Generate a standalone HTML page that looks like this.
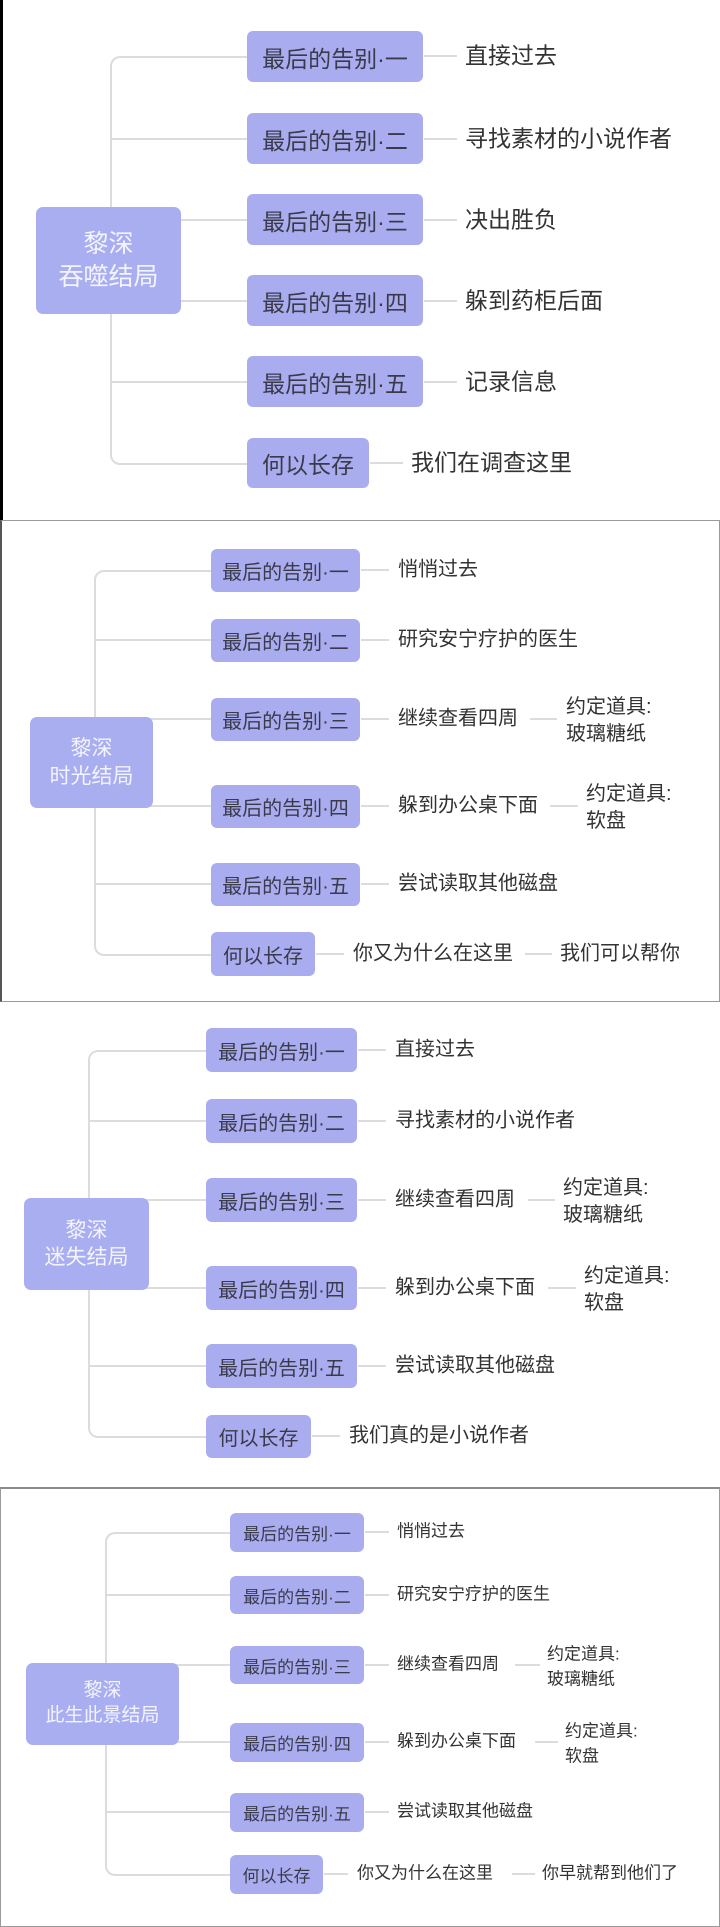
<!DOCTYPE html>
<html><head><meta charset="utf-8"><style>
html,body{margin:0;padding:0;background:#fff}
body{width:720px;height:1918px;position:relative;overflow:hidden;font-family:"Liberation Sans","Noto Sans CJK SC",sans-serif}
div{position:absolute;box-sizing:border-box}
.b{background:#a9adf0;border-radius:6px;display:flex;align-items:center;justify-content:center;color:#3a3a4a;white-space:nowrap}
.r{background:#a9aef0;border-radius:7px;display:flex;align-items:center;justify-content:center;text-align:center;color:#f4f4ff;line-height:1.3}
.t{color:#333;white-space:nowrap;transform:translateY(-50%);line-height:1.35}
.h{height:2px;background:#dcdcdc;margin-top:-1px}
.k{border:2px solid #dcdcdc;border-right:none;border-radius:10px 0 0 10px}
</style></head><body>

<!-- Section 1 -->
<div style="left:0;top:0;width:3px;height:520px;background:#000"></div>
<div class="k" style="left:110px;top:56px;width:137px;height:409px"></div>
<div class="h" style="left:110px;top:139px;width:137px"></div>
<div class="h" style="left:110px;top:220px;width:137px"></div>
<div class="h" style="left:110px;top:301px;width:137px"></div>
<div class="h" style="left:110px;top:382px;width:137px"></div>
<div class="r" style="left:36px;top:207px;width:145px;height:107px;font-size:25px">黎深<br>吞噬结局</div>
<div class="b" style="left:247px;top:31px;width:176px;height:51px;font-size:23px">最后的告别·一</div>
<div class="b" style="left:247px;top:113px;width:176px;height:51px;font-size:23px">最后的告别·二</div>
<div class="b" style="left:247px;top:194px;width:176px;height:51px;font-size:23px">最后的告别·三</div>
<div class="b" style="left:247px;top:275px;width:176px;height:51px;font-size:23px">最后的告别·四</div>
<div class="b" style="left:247px;top:356px;width:176px;height:51px;font-size:23px">最后的告别·五</div>
<div class="b" style="left:247px;top:438px;width:122px;height:50px;font-size:23px">何以长存</div>
<div class="h" style="left:424px;top:56px;width:33px"></div>
<div class="h" style="left:424px;top:139px;width:33px"></div>
<div class="h" style="left:424px;top:220px;width:33px"></div>
<div class="h" style="left:424px;top:301px;width:33px"></div>
<div class="h" style="left:424px;top:382px;width:33px"></div>
<div class="h" style="left:370px;top:463px;width:33px"></div>
<div class="t" style="left:465px;top:56px;font-size:23px">直接过去</div>
<div class="t" style="left:465px;top:139px;font-size:23px">寻找素材的小说作者</div>
<div class="t" style="left:465px;top:220px;font-size:23px">决出胜负</div>
<div class="t" style="left:465px;top:301px;font-size:23px">躲到药柜后面</div>
<div class="t" style="left:465px;top:382px;font-size:23px">记录信息</div>
<div class="t" style="left:411px;top:463px;font-size:23px">我们在调查这里</div>

<!-- Section 2 -->
<div style="left:0;top:520px;width:720px;height:482px;border:1px solid #9a9a9a;border-left:2px solid #555"></div>
<div class="k" style="left:94px;top:570px;width:117px;height:386px"></div>
<div class="h" style="left:94px;top:640px;width:117px"></div>
<div class="h" style="left:94px;top:719px;width:117px"></div>
<div class="h" style="left:94px;top:806px;width:117px"></div>
<div class="h" style="left:94px;top:884px;width:117px"></div>
<div class="r" style="left:30px;top:717px;width:123px;height:91px;font-size:21px">黎深<br>时光结局</div>
<div class="b" style="left:211px;top:549px;width:149px;height:43px;font-size:20px">最后的告别·一</div>
<div class="b" style="left:211px;top:619px;width:149px;height:43px;font-size:20px">最后的告别·二</div>
<div class="b" style="left:211px;top:698px;width:149px;height:43px;font-size:20px">最后的告别·三</div>
<div class="b" style="left:211px;top:785px;width:149px;height:43px;font-size:20px">最后的告别·四</div>
<div class="b" style="left:211px;top:863px;width:149px;height:43px;font-size:20px">最后的告别·五</div>
<div class="b" style="left:211px;top:932px;width:104px;height:44px;font-size:20px">何以长存</div>
<div class="h" style="left:361px;top:570px;width:28px"></div>
<div class="h" style="left:361px;top:640px;width:28px"></div>
<div class="h" style="left:361px;top:719px;width:28px"></div>
<div class="h" style="left:361px;top:806px;width:28px"></div>
<div class="h" style="left:361px;top:884px;width:28px"></div>
<div class="h" style="left:316px;top:954px;width:28px"></div>
<div class="h" style="left:530px;top:719px;width:27px"></div>
<div class="h" style="left:550px;top:806px;width:28px"></div>
<div class="h" style="left:525px;top:954px;width:27px"></div>
<div class="t" style="left:398px;top:570px;font-size:20px">悄悄过去</div>
<div class="t" style="left:398px;top:640px;font-size:20px">研究安宁疗护的医生</div>
<div class="t" style="left:398px;top:719px;font-size:20px">继续查看四周</div>
<div class="t" style="left:566px;top:721px;font-size:20px">约定道具:<br>玻璃糖纸</div>
<div class="t" style="left:398px;top:806px;font-size:20px">躲到办公桌下面</div>
<div class="t" style="left:586px;top:808px;font-size:20px">约定道具:<br>软盘</div>
<div class="t" style="left:398px;top:884px;font-size:20px">尝试读取其他磁盘</div>
<div class="t" style="left:353px;top:954px;font-size:20px">你又为什么在这里</div>
<div class="t" style="left:560px;top:954px;font-size:20px">我们可以帮你</div>

<!-- Section 3 -->
<div class="k" style="left:88px;top:1050px;width:118px;height:388px"></div>
<div class="h" style="left:88px;top:1121px;width:118px"></div>
<div class="h" style="left:88px;top:1200px;width:118px"></div>
<div class="h" style="left:88px;top:1288px;width:118px"></div>
<div class="h" style="left:88px;top:1366px;width:118px"></div>
<div class="r" style="left:24px;top:1198px;width:125px;height:92px;font-size:21px">黎深<br>迷失结局</div>
<div class="b" style="left:206px;top:1028px;width:151px;height:44px;font-size:20px">最后的告别·一</div>
<div class="b" style="left:206px;top:1099px;width:151px;height:44px;font-size:20px">最后的告别·二</div>
<div class="b" style="left:206px;top:1178px;width:151px;height:44px;font-size:20px">最后的告别·三</div>
<div class="b" style="left:206px;top:1266px;width:151px;height:44px;font-size:20px">最后的告别·四</div>
<div class="b" style="left:206px;top:1344px;width:151px;height:44px;font-size:20px">最后的告别·五</div>
<div class="b" style="left:206px;top:1415px;width:105px;height:43px;font-size:20px">何以长存</div>
<div class="h" style="left:358px;top:1050px;width:28px"></div>
<div class="h" style="left:358px;top:1121px;width:28px"></div>
<div class="h" style="left:358px;top:1200px;width:28px"></div>
<div class="h" style="left:358px;top:1288px;width:28px"></div>
<div class="h" style="left:358px;top:1366px;width:28px"></div>
<div class="h" style="left:312px;top:1436px;width:28px"></div>
<div class="h" style="left:528px;top:1200px;width:27px"></div>
<div class="h" style="left:548px;top:1288px;width:28px"></div>
<div class="t" style="left:395px;top:1050px;font-size:20px">直接过去</div>
<div class="t" style="left:395px;top:1121px;font-size:20px">寻找素材的小说作者</div>
<div class="t" style="left:395px;top:1200px;font-size:20px">继续查看四周</div>
<div class="t" style="left:563px;top:1202px;font-size:20px">约定道具:<br>玻璃糖纸</div>
<div class="t" style="left:395px;top:1288px;font-size:20px">躲到办公桌下面</div>
<div class="t" style="left:584px;top:1290px;font-size:20px">约定道具:<br>软盘</div>
<div class="t" style="left:395px;top:1366px;font-size:20px">尝试读取其他磁盘</div>
<div class="t" style="left:349px;top:1436px;font-size:20px">我们真的是小说作者</div>

<!-- Section 4 -->
<div style="left:0;top:1487px;width:720px;height:440px;border:1px solid #9a9a9a;border-top:2px solid #8a8a8a"></div>
<div class="k" style="left:105px;top:1532px;width:125px;height:344px"></div>
<div class="h" style="left:105px;top:1595px;width:125px"></div>
<div class="h" style="left:105px;top:1665px;width:125px"></div>
<div class="h" style="left:105px;top:1742px;width:125px"></div>
<div class="h" style="left:105px;top:1812px;width:125px"></div>
<div class="r" style="left:26px;top:1663px;width:153px;height:82px;font-size:19px">黎深<br>此生此景结局</div>
<div class="b" style="left:230px;top:1513px;width:134px;height:39px;font-size:17px">最后的告别·一</div>
<div class="b" style="left:230px;top:1576px;width:134px;height:38px;font-size:17px">最后的告别·二</div>
<div class="b" style="left:230px;top:1646px;width:134px;height:38px;font-size:17px">最后的告别·三</div>
<div class="b" style="left:230px;top:1723px;width:134px;height:39px;font-size:17px">最后的告别·四</div>
<div class="b" style="left:230px;top:1793px;width:134px;height:39px;font-size:17px">最后的告别·五</div>
<div class="b" style="left:230px;top:1855px;width:93px;height:39px;font-size:17px">何以长存</div>
<div class="h" style="left:365px;top:1532px;width:24px"></div>
<div class="h" style="left:365px;top:1595px;width:24px"></div>
<div class="h" style="left:365px;top:1665px;width:24px"></div>
<div class="h" style="left:365px;top:1742px;width:24px"></div>
<div class="h" style="left:365px;top:1812px;width:24px"></div>
<div class="h" style="left:324px;top:1874px;width:24px"></div>
<div class="h" style="left:515px;top:1665px;width:25px"></div>
<div class="h" style="left:535px;top:1742px;width:23px"></div>
<div class="h" style="left:512px;top:1874px;width:23px"></div>
<div class="t" style="left:397px;top:1532px;font-size:17px">悄悄过去</div>
<div class="t" style="left:397px;top:1595px;font-size:17px">研究安宁疗护的医生</div>
<div class="t" style="left:397px;top:1665px;font-size:17px">继续查看四周</div>
<div class="t" style="left:547px;top:1667px;font-size:17px;line-height:1.45">约定道具:<br>玻璃糖纸</div>
<div class="t" style="left:397px;top:1742px;font-size:17px">躲到办公桌下面</div>
<div class="t" style="left:565px;top:1744px;font-size:17px;line-height:1.45">约定道具:<br>软盘</div>
<div class="t" style="left:397px;top:1812px;font-size:17px">尝试读取其他磁盘</div>
<div class="t" style="left:357px;top:1874px;font-size:17px">你又为什么在这里</div>
<div class="t" style="left:542px;top:1874px;font-size:17px">你早就帮到他们了</div>

</body></html>
